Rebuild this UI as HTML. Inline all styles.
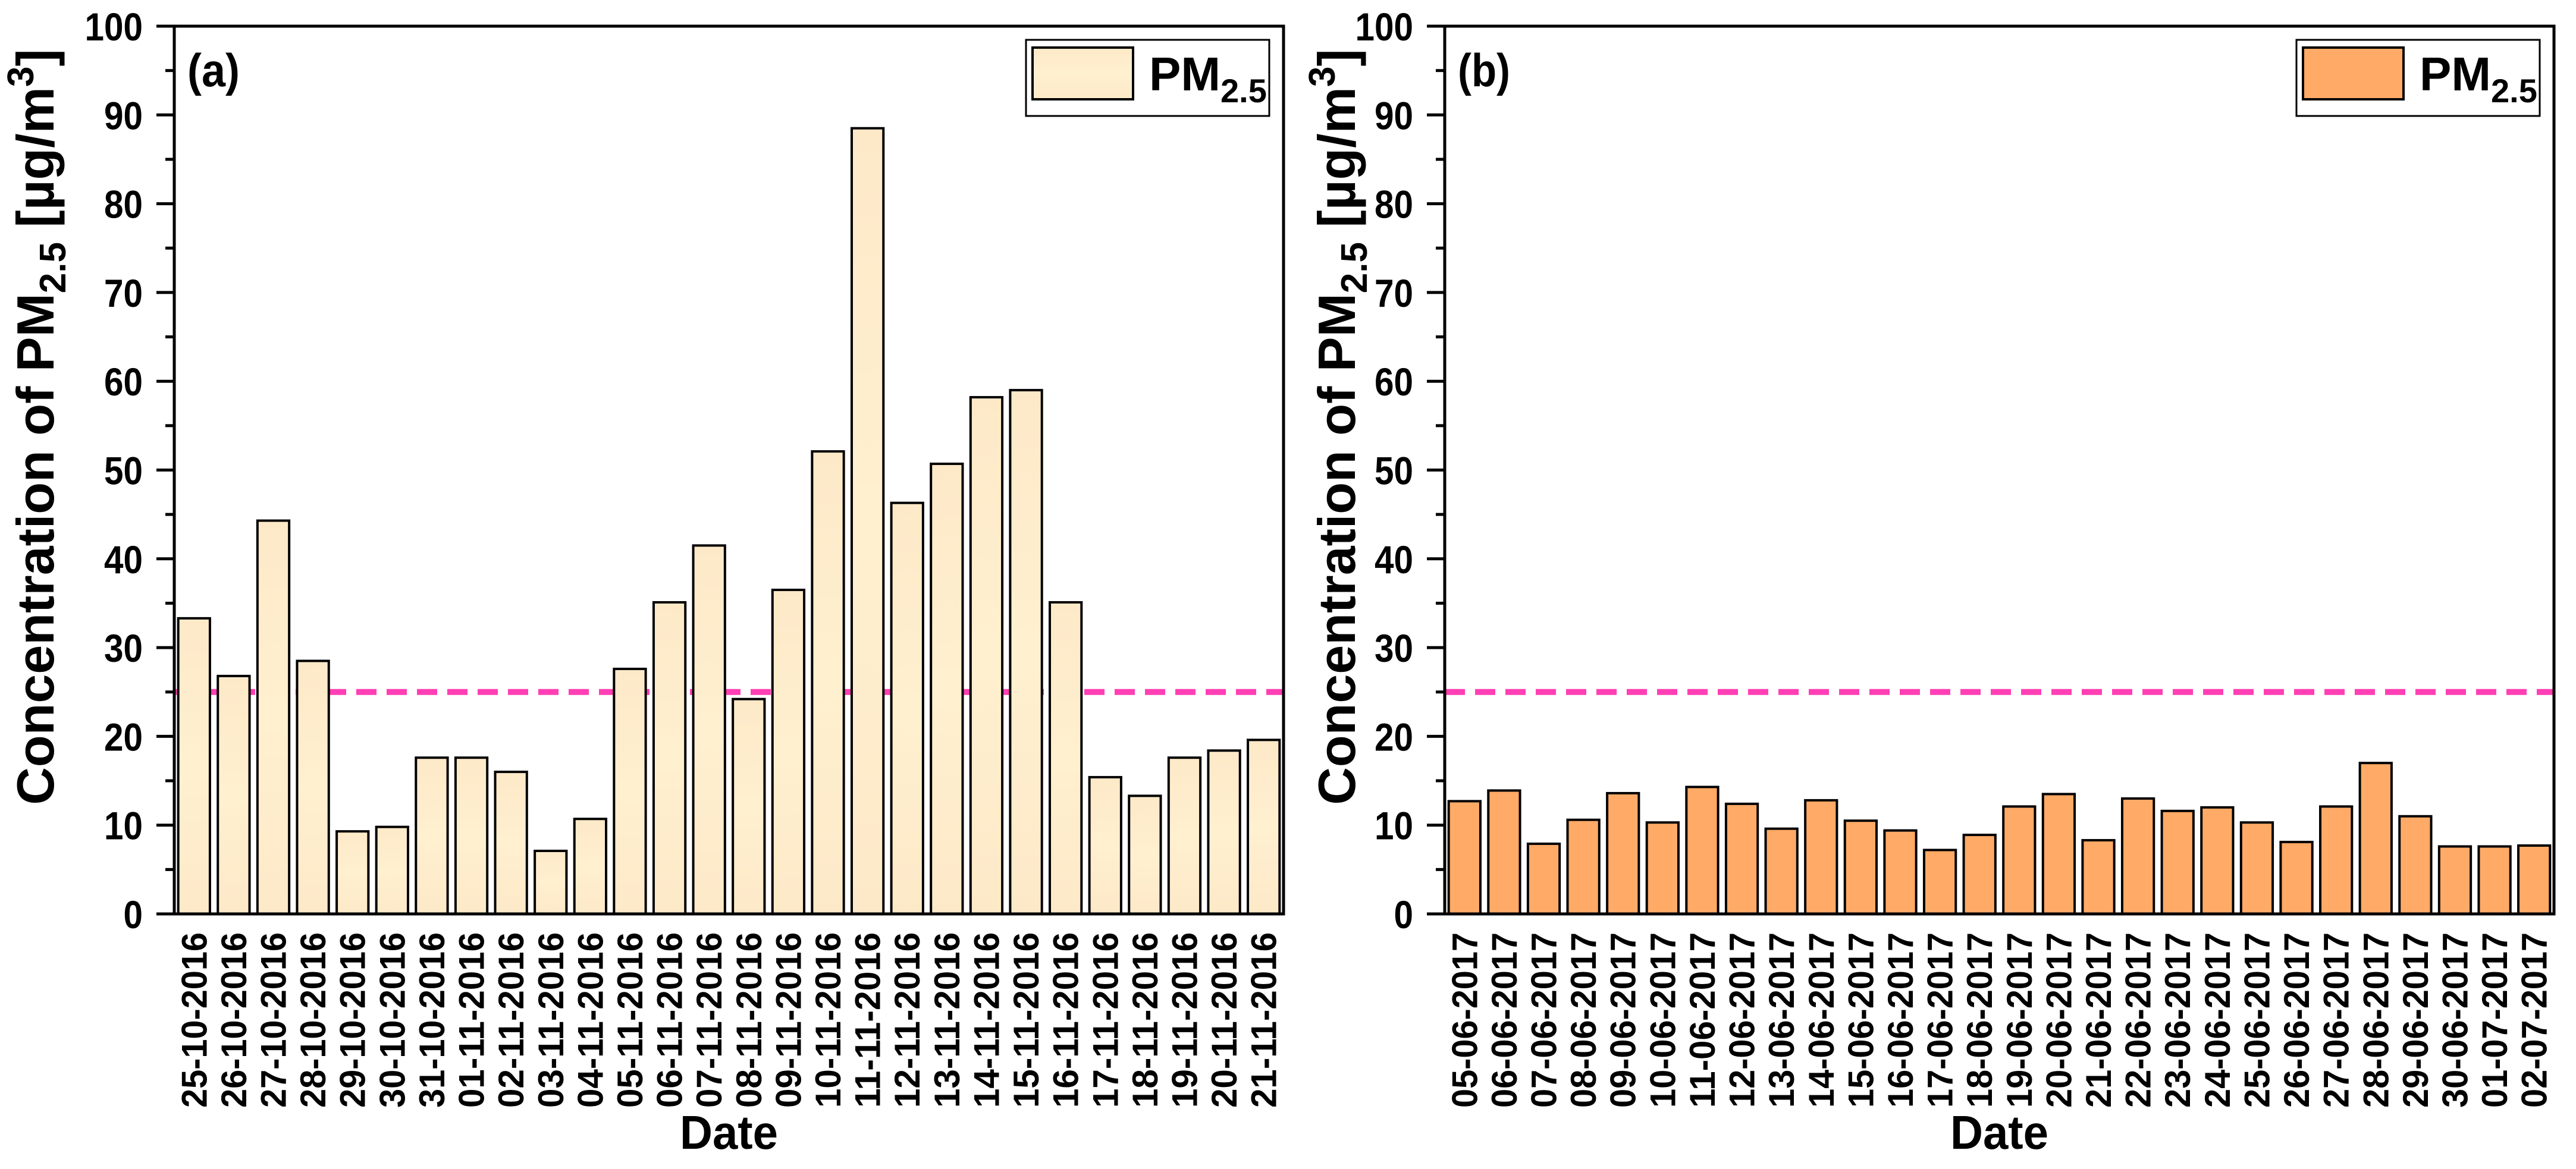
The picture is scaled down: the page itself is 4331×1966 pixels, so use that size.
<!DOCTYPE html>
<html><head><meta charset="utf-8">
<style>
html,body{margin:0;padding:0;background:#fff;}
svg{display:block;font-family:"Liberation Sans",Arial,sans-serif;font-weight:bold;}
</style></head>
<body>
<svg id="chart" width="4331" height="1966" viewBox="0 0 4331 1966" xmlns="http://www.w3.org/2000/svg">
<defs>
<linearGradient id="gradA" x1="0" y1="0" x2="0" y2="1">
<stop offset="0" stop-color="#fde9c8"/><stop offset="0.5" stop-color="#fff0d0"/><stop offset="1" stop-color="#fde9c8"/>
</linearGradient>
</defs>
</svg>
<script>
const datesA = ["25-10-2016","26-10-2016","27-10-2016","28-10-2016","29-10-2016","30-10-2016","31-10-2016","01-11-2016","02-11-2016","03-11-2016","04-11-2016","05-11-2016","06-11-2016","07-11-2016","08-11-2016","09-11-2016","10-11-2016","11-11-2016","12-11-2016","13-11-2016","14-11-2016","15-11-2016","16-11-2016","17-11-2016","18-11-2016","19-11-2016","20-11-2016","21-11-2016"];
const valuesA = [33.3,26.8,44.3,28.5,9.3,9.8,17.6,17.6,16.0,7.1,10.7,27.6,35.1,41.5,24.2,36.5,52.1,88.5,46.3,50.7,58.2,59.0,35.1,15.4,13.3,17.6,18.4,19.6];
const datesB = ["05-06-2017","06-06-2017","07-06-2017","08-06-2017","09-06-2017","10-06-2017","11-06-2017","12-06-2017","13-06-2017","14-06-2017","15-06-2017","16-06-2017","17-06-2017","18-06-2017","19-06-2017","20-06-2017","21-06-2017","22-06-2017","23-06-2017","24-06-2017","25-06-2017","26-06-2017","27-06-2017","28-06-2017","29-06-2017","30-06-2017","01-07-2017","02-07-2017"];
const valuesB = [12.7,13.9,7.9,10.6,13.6,10.3,14.3,12.4,9.6,12.8,10.5,9.4,7.2,8.9,12.1,13.5,8.3,13.0,11.6,12.0,10.3,8.1,12.1,17.0,11.0,7.6,7.6,7.7];
const yTicks = [0,10,20,30,40,50,60,70,80,90,100];
const limitValue = [25];

const NS = "http://www.w3.org/2000/svg";
const svg = document.getElementById("chart");
function mk(tag, attrs, parent){const e=document.createElementNS(NS,tag);for(const k in attrs)e.setAttribute(k,attrs[k]);(parent||svg).appendChild(e);return e;}

function panel(ox, dates, values, fill, tag, titleX){
  const x0 = ox, x1 = ox + 1865, yTop = 44, yBot = 1537;
  const yScale = v => yBot - (v/100)*(yBot-yTop);
  const band = (x1-x0)/dates.length;
  const xBand = i => x0 + i*band;
  const g = mk("g",{});
  
  
  const ly = yScale(limitValue[0]);
  const dl = mk("line",{x1:x0,x2:x1,y1:ly,y2:ly,stroke:"#ff3fb4","stroke-width":10,"stroke-dasharray":"34 17"},g);
  
  
  values.forEach((v,i)=>{
    const bw = band*0.8, bx = xBand(i)+band*0.1, by = yScale(v);
    const r = mk("rect",{x:bx,y:by,width:bw,height:yBot-by,fill:fill,stroke:"#000","stroke-width":4},g);
    
    
    const cx = xBand(i)+band/2;
    const t = mk("text",{transform:`translate(${cx+21},1568) rotate(-90)`,"text-anchor":"end","font-size":60,textLength:295,lengthAdjust:"spacingAndGlyphs"},g);
    t.textContent = dates[i];
    
    
  });
  const fr = mk("rect",{x:x0,y:yTop,width:x1-x0,height:yBot-yTop,fill:"none",stroke:"#000","stroke-width":5},g);
  
  
  yTicks.forEach(v=>{
    const y = yScale(v);
    mk("line",{x1:x0-30,x2:x0,y1:y,y2:y,stroke:"#000","stroke-width":5},g);
    const s = String(v);
    const t = mk("text",{x:x0-53,y:y+24,"text-anchor":"end","font-size":66,textLength:32.5*s.length,lengthAdjust:"spacingAndGlyphs"},g);
    t.textContent = s;
    
    
    if(v<100){const ym=yScale(v+5);mk("line",{x1:x0-15,x2:x0,y1:ym,y2:ym,stroke:"#000","stroke-width":5},g);}
  });
  const yt = mk("text",{transform:`translate(${titleX},718) rotate(-90)`,"text-anchor":"middle","font-size":88},g);
  yt.innerHTML = 'Concentration of PM<tspan font-size="62" dy="20">2.5</tspan><tspan dy="-20"> [µg/m</tspan><tspan font-size="62" dy="-34">3</tspan><tspan dy="34">]</tspan>';
  
  
  const xt = mk("text",{x:(x0+x1)/2,y:1932,"text-anchor":"middle","font-size":80,textLength:165,lengthAdjust:"spacingAndGlyphs"},g);
  xt.textContent = "Date";
  
  
  const pl = mk("text",{x:x0+22,y:145,"font-size":78,textLength:88,lengthAdjust:"spacingAndGlyphs"},g);
  pl.textContent = "("+tag+")";
  
  
  const lg = mk("g",{},g);
  
  
  mk("rect",{x:x1-433,y:67,width:409,height:128,fill:"#fff",stroke:"#000","stroke-width":3},lg);
  mk("rect",{x:x1-422,y:80,width:169,height:87,fill:fill,stroke:"#000","stroke-width":4},lg);
  const lt = mk("text",{x:x1-226,y:152,"font-size":80},lg);
  lt.innerHTML = 'PM<tspan font-size="56" dy="20">2.5</tspan>';
  
  
}
panel(293, datesA, valuesA, "url(#gradA)", "a", 90);
panel(2429, datesB, valuesB, "#ffaa66", "b", 2278);
</script>
</body></html>
